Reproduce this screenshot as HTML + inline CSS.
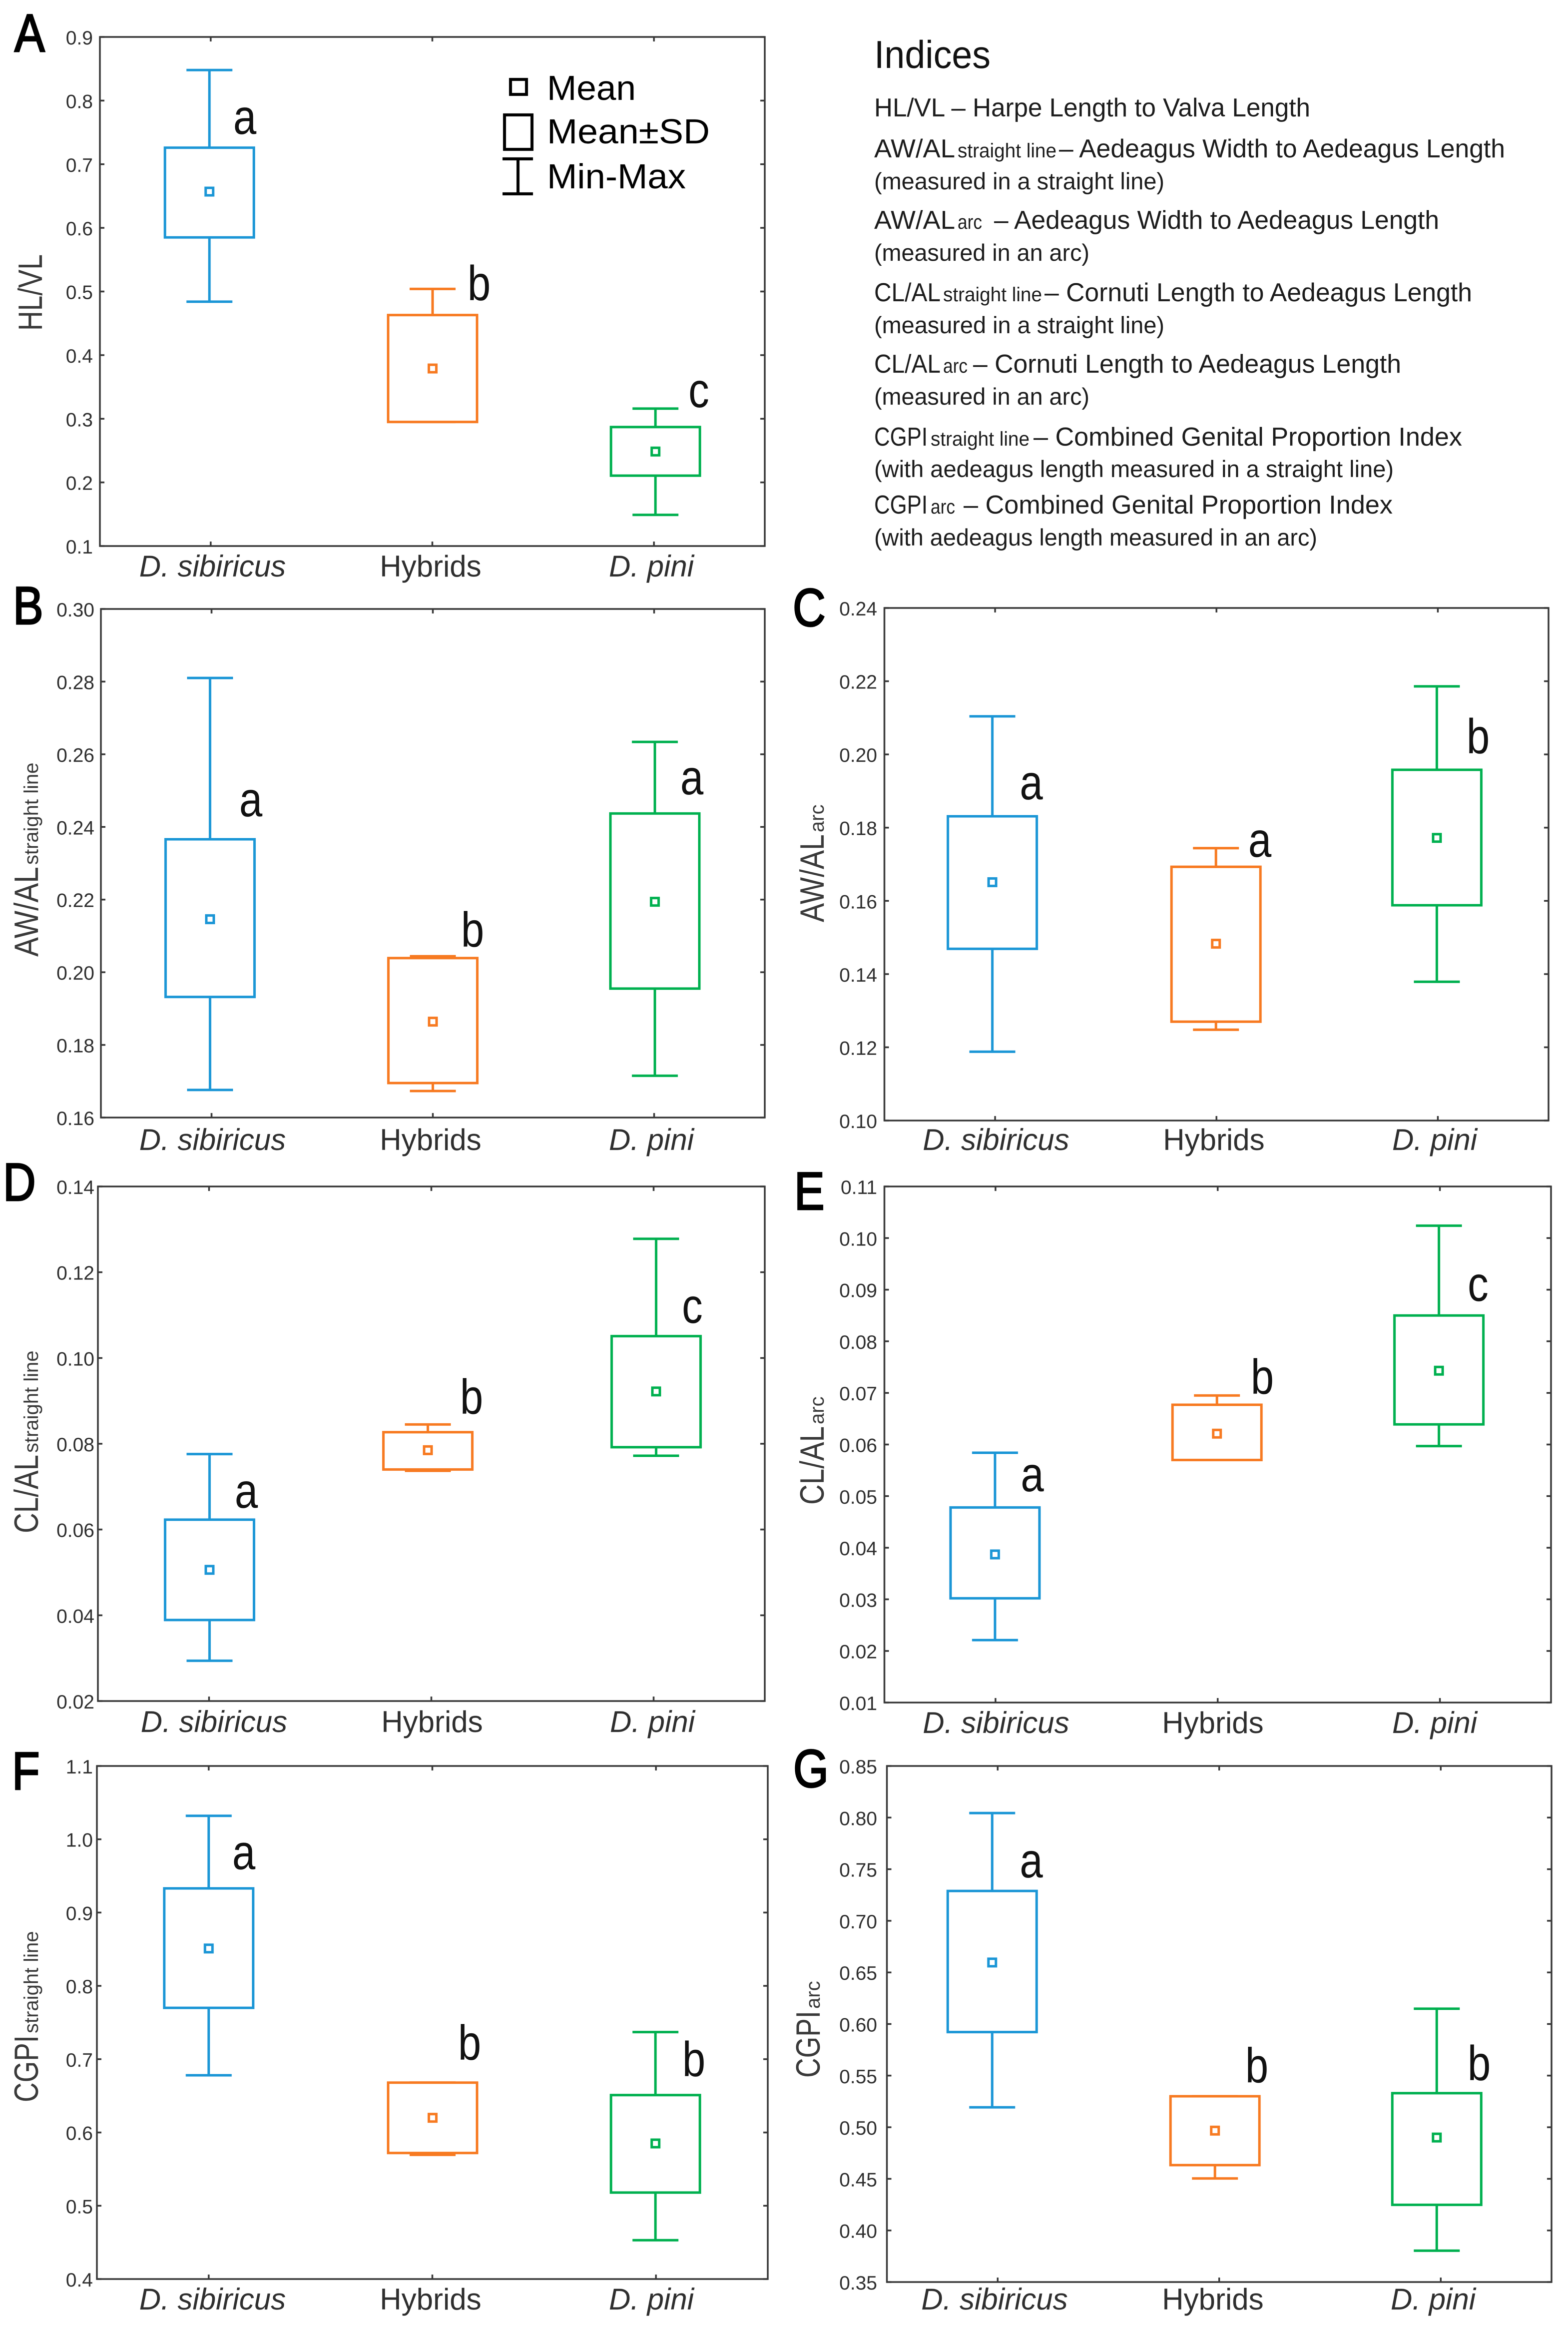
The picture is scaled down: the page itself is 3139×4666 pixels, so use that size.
<!DOCTYPE html>
<html lang="en">
<head>
<meta charset="utf-8">
<title>Genital proportion indices box plots</title>
<style>
html,body{margin:0;padding:0;background:#fff}
svg{display:block;filter:blur(0.8px)}
text{font-family:"Liberation Sans",sans-serif}
</style>
</head>
<body>
<svg id="figure" xmlns="http://www.w3.org/2000/svg" width="3139" height="4666" viewBox="0 0 3139 4666">
<rect x="0" y="0" width="3139" height="4666" fill="#fff"/>

<g id="indices" fill="#1c1c1c" font-size="52">
<text x="1750" y="136" font-size="78" textLength="233" lengthAdjust="spacingAndGlyphs" fill="#111">Indices</text>
<text x="1750" y="233" textLength="873" lengthAdjust="spacingAndGlyphs">HL/VL – Harpe Length to Valva Length</text>

<g>
<text x="1750" y="315" textLength="162" lengthAdjust="spacingAndGlyphs">AW/AL</text>
<text x="1917" y="315" font-size="40" textLength="198" lengthAdjust="spacingAndGlyphs">straight line</text>
<text x="2120" y="315" textLength="893" lengthAdjust="spacingAndGlyphs">– Aedeagus Width to Aedeagus Length</text>
<text x="1750" y="379" font-size="47" textLength="581" lengthAdjust="spacingAndGlyphs">(measured in a straight line)</text>
</g>

<g>
<text x="1750" y="458" textLength="162" lengthAdjust="spacingAndGlyphs">AW/AL</text>
<text x="1917" y="458" font-size="40" textLength="49" lengthAdjust="spacingAndGlyphs">arc</text>
<text x="1990" y="458" textLength="891" lengthAdjust="spacingAndGlyphs">– Aedeagus Width to Aedeagus Length</text>
<text x="1750" y="522" font-size="47" textLength="431" lengthAdjust="spacingAndGlyphs">(measured in an arc)</text>
</g>

<g>
<text x="1750" y="603" textLength="133" lengthAdjust="spacingAndGlyphs">CL/AL</text>
<text x="1888" y="603" font-size="40" textLength="198" lengthAdjust="spacingAndGlyphs">straight line</text>
<text x="2091" y="603" textLength="856" lengthAdjust="spacingAndGlyphs">– Cornuti Length to Aedeagus Length</text>
<text x="1750" y="667" font-size="47" textLength="581" lengthAdjust="spacingAndGlyphs">(measured in a straight line)</text>
</g>

<g>
<text x="1750" y="746" textLength="133" lengthAdjust="spacingAndGlyphs">CL/AL</text>
<text x="1888" y="746" font-size="40" textLength="49" lengthAdjust="spacingAndGlyphs">arc</text>
<text x="1948" y="746" textLength="857" lengthAdjust="spacingAndGlyphs">– Cornuti Length to Aedeagus Length</text>
<text x="1750" y="810" font-size="47" textLength="431" lengthAdjust="spacingAndGlyphs">(measured in an arc)</text>
</g>

<g>
<text x="1750" y="892" textLength="107" lengthAdjust="spacingAndGlyphs">CGPI</text>
<text x="1863" y="892" font-size="40" textLength="198" lengthAdjust="spacingAndGlyphs">straight line</text>
<text x="2069" y="892" textLength="858" lengthAdjust="spacingAndGlyphs">– Combined Genital Proportion Index</text>
<text x="1750" y="955" font-size="47" textLength="1040" lengthAdjust="spacingAndGlyphs">(with aedeagus length measured in a straight line)</text>
</g>

<g>
<text x="1750" y="1028" textLength="107" lengthAdjust="spacingAndGlyphs">CGPI</text>
<text x="1863" y="1028" font-size="40" textLength="49" lengthAdjust="spacingAndGlyphs">arc</text>
<text x="1929" y="1028" textLength="859" lengthAdjust="spacingAndGlyphs">– Combined Genital Proportion Index</text>
<text x="1750" y="1092" font-size="47" textLength="887" lengthAdjust="spacingAndGlyphs">(with aedeagus length measured in an arc)</text>
</g>
</g>

<g id="legend" fill="none" stroke="#000" stroke-width="6">
<rect x="1022" y="159" width="32" height="30"/>
<text x="1095" y="200" font-size="70" fill="#000" stroke="none" textLength="178" lengthAdjust="spacingAndGlyphs">Mean</text>
<rect x="1010" y="230" width="55" height="69"/>
<text x="1095" y="287" font-size="70" fill="#000" stroke="none" textLength="326" lengthAdjust="spacingAndGlyphs">Mean±SD</text>
<path d="M1006 318H1067M1037 318V388M1006 388H1067"/>
<text x="1095" y="377" font-size="70" fill="#000" stroke="none" textLength="278" lengthAdjust="spacingAndGlyphs">Min-Max</text>
</g>
</svg>

<script>
// ---- chart data ----
const categories = ['D. sibiricus', 'Hybrids', 'D. pini'];

const ticksA = ['0.1','0.2','0.3','0.4','0.5','0.6','0.7','0.8','0.9'];
const maxA = [0.848, 0.504, 0.316];
const upperA = [0.726, 0.463, 0.287];
const meanA = [0.657, 0.379, 0.2485];
const lowerA = [0.585, 0.295, 0.2106];
const minA = [0.484, 0.295, 0.149];
const lettersA = ['a','b','c'];

const ticksB = ['0.16','0.18','0.20','0.22','0.24','0.26','0.28','0.30'];
const maxB = [0.281, 0.2044, 0.2634];
const upperB = [0.2366, 0.2039, 0.2437];
const meanB = [0.2146, 0.1864, 0.2194];
const lowerB = [0.1932, 0.1695, 0.1955];
const minB = [0.1676, 0.1673, 0.1715];
const lettersB = ['a','b','a'];

const ticksC = ['0.10','0.12','0.14','0.16','0.18','0.20','0.22','0.24'];
const maxC = [0.2104, 0.1744, 0.2186];
const upperC = [0.1831, 0.1693, 0.1958];
const meanC = [0.1651, 0.1483, 0.1772];
const lowerC = [0.1469, 0.1270, 0.1588];
const minC = [0.1188, 0.1248, 0.1379];
const lettersC = ['a','a','b'];

const ticksD = ['0.02','0.04','0.06','0.08','0.10','0.12','0.14'];
const maxD = [0.0776, 0.0845, 0.1278];
const upperD = [0.0623, 0.0827, 0.1051];
const meanD = [0.0506, 0.0785, 0.0922];
const lowerD = [0.0389, 0.0740, 0.0792];
const minD = [0.0294, 0.0737, 0.0772];
const lettersD = ['a','b','c'];

const ticksE = ['0.01','0.02','0.03','0.04','0.05','0.06','0.07','0.08','0.09','0.10','0.11'];
const maxE = [0.0584, 0.0695, 0.1024];
const upperE = [0.0478, 0.0677, 0.0850];
const meanE = [0.0387, 0.0621, 0.0743];
const lowerE = [0.0302, 0.0570, 0.0639];
const minE = [0.0221, 0.0570, 0.0597];
const lettersE = ['a','b','c'];

const ticksF = ['0.4','0.5','0.6','0.7','0.8','0.9','1.0','1.1'];
const maxF = [1.032, 0.668, 0.737];
const upperF = [0.933, 0.668, 0.651];
const meanF = [0.851, 0.620, 0.585];
const lowerF = [0.770, 0.572, 0.518];
const minF = [0.678, 0.5695, 0.453];
const lettersF = ['a','b','b'];

const ticksG = ['0.35','0.40','0.45','0.50','0.55','0.60','0.65','0.70','0.75','0.80','0.85'];
const maxG = [0.8044, 0.530, 0.6148];
const upperG = [0.7289, 0.530, 0.533];
const meanG = [0.6596, 0.4967, 0.490];
const lowerG = [0.5922, 0.4633, 0.4248];
const minG = [0.5193, 0.4504, 0.3804];
const lettersG = ['a','b','b'];

// ---- page layout (no data here) ----
const SERIES_COLORS = ['#1b96d6', '#f77a21', '#00b04f'];
const FRAME_COLOR = '#383838';
const TEXT_COLOR = '#2e2e2e';
const BOX_WIDTH = 178;
const CAP_WIDTH = 92;
const MEAN_SIZE = 15;

const panelConfigs = [
  {id:'a', ticks:ticksA, max:maxA, upper:upperA, mean:meanA, lower:lowerA, min:minA, letters:lettersA,
   frame:{l:200,r:1531,t:74,b:1093}, nudge:[-2.6,0.5,3], tickRight:186, catBase:1154, catX:[425.5,862,1304],
   tag:{s:'A',x:29,y:103}, title:{main:'HL/VL',sub:'',x:84,y:662,len:153},
   letterPos:[[490,268],[959,601],[1399,815]]},
  {id:'b', ticks:ticksB, max:maxB, upper:upperB, mean:meanB, lower:lowerB, min:minB, letters:lettersB,
   frame:{l:202,r:1531,t:1219,b:2237}, nudge:[-3,0,1.5], tickRight:189, catBase:2302, catX:[425.5,862,1304],
   tag:{s:'B',x:26,y:1249}, title:{main:'AW/AL',sub:'straight line',x:76,y:1915,len:180},
   letterPos:[[502,1634],[946,1895],[1385,1590]]},
  {id:'c', ticks:ticksC, max:maxC, upper:upperC, mean:meanC, lower:lowerC, min:minC, letters:lettersC,
   frame:{l:1770.5,r:3100,t:1217,b:2243}, nudge:[-5.5,-1,-2], tickRight:1756, catBase:2302, catX:[1994,2430,2872],
   tag:{s:'C',x:1587,y:1253}, title:{main:'AW/AL',sub:'arc',x:1649,y:1846,len:176},
   letterPos:[[2064.5,1600],[2522,1715],[2959,1508]]},
  {id:'d', ticks:ticksD, max:maxD, upper:upperD, mean:meanD, lower:lowerD, min:minD, letters:lettersD,
   frame:{l:196,r:1531,t:2375,b:3405}, nudge:[1,-7,5], tickRight:189, catBase:3467, catX:[428.5,865,1306],
   tag:{s:'D',x:6,y:2403}, title:{main:'CL/AL',sub:'straight line',x:76,y:3069,len:157},
   letterPos:[[493,3018],[944,2830],[1386,2648]]},
  {id:'e', ticks:ticksE, max:maxE, upper:upperE, mean:meanE, lower:lowerE, min:minE, letters:lettersE,
   frame:{l:1770.5,r:3105,t:2375,b:3408}, nudge:[-1,-1.5,-2], tickRight:1756, catBase:3469, catX:[1994,2428,2872],
   tag:{s:'E',x:1590,y:2421}, title:{main:'CL/AL',sub:'arc',x:1649,y:3012,len:157},
   letterPos:[[2066.5,2985],[2527,2790],[2959,2604]]},
  {id:'f', ticks:ticksF, max:maxF, upper:upperF, mean:meanF, lower:lowerF, min:minF, letters:lettersF,
   frame:{l:194,r:1537,t:3535,b:4562}, nudge:[0,0.5,-1], tickRight:186, catBase:4623, catX:[425.5,862,1304],
   tag:{s:'F',x:24,y:3582}, title:{main:'CGPI',sub:'straight line',x:76,y:4208,len:134},
   letterPos:[[488,3741.5],[940,4123],[1389,4156]]},
  {id:'g', ticks:ticksG, max:maxG, upper:upperG, mean:meanG, lower:lowerG, min:minG, letters:lettersG,
   frame:{l:1775.5,r:3106,t:3535,b:4568}, nudge:[-11,-8.5,-8], tickRight:1756, catBase:4623, catX:[1991,2428,2869],
   tag:{s:'G',x:1588,y:3577}, title:{main:'CGPI',sub:'arc',x:1641,y:4159,len:134},
   letterPos:[[2064.5,3758],[2516,4168.5],[2961,4164]]}
];

const SVG_NS = 'http://www.w3.org/2000/svg';
const figure = document.getElementById('figure');

function make(parent, tag, attrs) {
  const el = document.createElementNS(SVG_NS, tag);
  for (const k in attrs) el.setAttribute(k, attrs[k]);
  parent.appendChild(el);
  return el;
}

function makeText(parent, str, attrs) {
  const el = make(parent, 'text', attrs);
  el.textContent = str;
  return el;
}

function linearScale(d0, d1, r0, r1) {
  return function (v) { return r0 + (v - d0) / (d1 - d0) * (r1 - r0); };
}

function bandScale(count, r0, r1) {
  return function (i) { return r0 + (r1 - r0) * (i + 0.5) / count; };
}

function drawAxes(g, cfg, y, x) {
  const f = cfg.frame;
  const frame = make(g, 'rect', {x:f.l, y:f.t, width:f.r-f.l, height:f.b-f.t, fill:'none', stroke:FRAME_COLOR, 'stroke-width':3.5});
  
  

  cfg.ticks.forEach(function (label) {
    const py = y(parseFloat(label));
    const marks = make(g, 'path', {d:'M'+f.l+' '+py+'h9M'+f.r+' '+py+'h-9', stroke:FRAME_COLOR, 'stroke-width':3.5, fill:'none'});
    
    
    const t = makeText(g, label, {x:cfg.tickRight, y:py+15, 'font-size':39, 'text-anchor':'end', fill:TEXT_COLOR});
    
    
  });

  categories.forEach(function (name, i) {
    const px = x(i);
    const marks = make(g, 'path', {d:'M'+px+' '+f.t+'v9M'+px+' '+f.b+'v-9', stroke:FRAME_COLOR, 'stroke-width':3.5, fill:'none'});
    
    
    const t = makeText(g, name, {x:cfg.catX[i], y:cfg.catBase, 'font-size':60, 'text-anchor':'middle', fill:TEXT_COLOR, 'font-style': i === 1 ? 'normal' : 'italic'});
    
    
  });

  const main = makeText(g, cfg.title.main, {
    transform:'translate('+cfg.title.x+' '+cfg.title.y+') rotate(-90)',
    'font-size':68, fill:'#3a3a3a', textLength:cfg.title.len, lengthAdjust:'spacingAndGlyphs'
  });
  
  
  if (cfg.title.sub) {
    const sub = makeText(g, cfg.title.sub, {
      transform:'translate('+cfg.title.x+' '+(cfg.title.y-cfg.title.len-4)+') rotate(-90)',
      'font-size':40, fill:'#3a3a3a'
    });
    
    
  }

  const tag = makeText(g, cfg.tag.s, {
    transform:'translate('+cfg.tag.x+' '+cfg.tag.y+') scale(0.85 1)',
    'font-size':107, fill:'#000', stroke:'#000', 'stroke-width':3
  });
  
  
}

function drawBox(g, cfg, y, x, i) {
  const color = SERIES_COLORS[i];
  const cx = x(i) + cfg.nudge[i];
  const series = make(g, 'g', {fill:'none', stroke:color, 'stroke-width':5});
  
  

  const upperWhisker = make(series, 'line', {x1:cx, x2:cx, y1:y(cfg.max[i]), y2:y(cfg.upper[i])});
  
  

  const lowerWhisker = make(series, 'line', {x1:cx, x2:cx, y1:y(cfg.lower[i]), y2:y(cfg.min[i])});
  
  

  const capMax = make(series, 'line', {x1:cx-CAP_WIDTH/2, x2:cx+CAP_WIDTH/2, y1:y(cfg.max[i]), y2:y(cfg.max[i])});
  
  

  const capMin = make(series, 'line', {x1:cx-CAP_WIDTH/2, x2:cx+CAP_WIDTH/2, y1:y(cfg.min[i]), y2:y(cfg.min[i])});
  
  

  const box = make(series, 'rect', {x:cx-BOX_WIDTH/2, y:y(cfg.upper[i]), width:BOX_WIDTH, height:y(cfg.lower[i])-y(cfg.upper[i]), fill:'#fff'});
  
  

  const mean = make(series, 'rect', {x:cx-MEAN_SIZE/2, y:y(cfg.mean[i])-MEAN_SIZE/2, width:MEAN_SIZE, height:MEAN_SIZE, 'stroke-width':5});
  
  

  const pos = cfg.letterPos[i];
  const letter = makeText(g, cfg.letters[i], {
    transform:'translate('+pos[0]+' '+pos[1]+') scale(0.85 1)',
    'font-size':98, 'text-anchor':'middle', fill:'#111'
  });
  
  
}

panelConfigs.forEach(function (cfg) {
  const g = make(figure, 'g', {id:'panel-'+cfg.id});
  
  
  const f = cfg.frame;
  const lo = parseFloat(cfg.ticks[0]);
  const hi = parseFloat(cfg.ticks[cfg.ticks.length-1]);
  const y = linearScale(lo, hi, f.b, f.t);
  const x = bandScale(categories.length, f.l, f.r);
  drawAxes(g, cfg, y, x);
  categories.forEach(function (_, i) { drawBox(g, cfg, y, x, i); });
});
</script>
</body>
</html>
